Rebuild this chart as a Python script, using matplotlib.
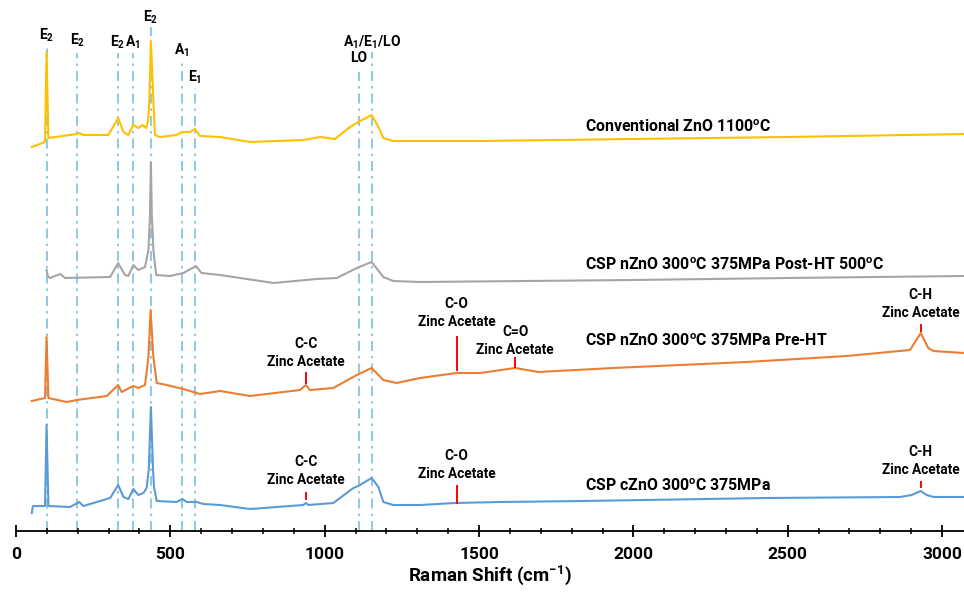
import matplotlib
matplotlib.use('Agg')
import matplotlib.pyplot as plt
from matplotlib.ticker import MultipleLocator

plt.rcParams['font.family'] = ['Roboto', 'DejaVu Sans']
plt.rcParams['font.weight'] = 'bold'
plt.rcParams['mathtext.default'] = 'regular'

# Raman spectra (x in cm-1, intensity in a.u., already offset)
yellow_x = [51, 94, 99, 105, 197, 205, 218, 299, 331, 348, 364, 380, 396, 410, 421, 428, 432, 437,
            445, 450, 466, 520, 537, 564, 580, 596, 661, 758, 931, 985, 1033, 1082, 1109, 1152,
            1174, 1190, 1222, 1309, 1500, 2000, 2500, 3071]
yellow_y = [384, 389, 479, 393, 397, 398, 396, 396, 413, 399, 396, 406, 403, 406, 403, 410, 431, 490,
            431, 396, 394, 396, 399, 399, 402, 395, 394, 389, 391, 394, 392, 404, 409, 416,
            404, 393, 390, 390, 390, 392, 394, 397]

gray_x = [99, 103, 110, 143, 159, 305, 331, 353, 364, 380, 396, 418, 429, 434, 437, 440, 445, 454,
          499, 542, 583, 601, 661, 834, 974, 1039, 1104, 1152, 1190, 1222, 1309, 2000, 2500, 3071]
gray_y = [261, 255, 253, 257, 253, 254, 268, 256, 255, 266, 261, 264, 281, 316, 368, 316, 281, 256,
          255, 258, 265, 258, 256, 248, 252, 253, 263, 269, 254, 250, 249, 251, 253, 255]

orange_x = [51, 94, 99, 105, 164, 197, 294, 331, 342, 380, 396, 418, 429, 436, 445, 456, 488, 542,
            596, 661, 758, 920, 939, 952, 1028, 1104, 1152, 1190, 1233, 1309, 1427, 1503, 1617,
            1692, 1935, 2367, 2691, 2896, 2931, 2955, 2972, 3071]
orange_y = [130, 133, 194, 133, 129, 131, 135, 146, 139, 145, 143, 146, 174, 221, 174, 148, 146, 142,
            137, 140, 135, 141, 146, 141, 143, 156, 163, 151, 148, 153, 158, 158, 163,
            159, 163, 169, 175, 181, 198, 183, 180, 178]

blue_x = [51, 55, 94, 99, 105, 175, 205, 218, 305, 331, 348, 364, 380, 396, 413, 423, 430, 437, 444,
          447, 456, 520, 539, 553, 585, 607, 661, 758, 931, 939, 947, 1028, 1093, 1109, 1152, 1174,
          1190, 1222, 1309, 1422, 1568, 1838, 2432, 2864, 2901, 2931, 2950, 2972, 3071]
blue_y = [18, 25, 25, 106, 25, 24, 29, 25, 33, 46, 34, 32, 42, 36, 38, 43, 61, 124, 61,
          44, 30, 29, 32, 29, 29, 27, 26, 22, 26, 28, 26, 28, 43, 45, 53, 44,
          29, 26, 26, 28, 29, 30, 33, 34, 36, 40, 36, 34, 34]

sample_names = ['Conventional ZnO 1100$^o$C',
                'CSP nZnO 300$^o$C 375MPa Post-HT 500$^o$C',
                'CSP nZnO 300$^o$C 375MPa Pre-HT',
                'CSP cZnO 300$^o$C 375MPa']
sample_label_y = [404, 266, 190, 45]

# ZnO phonon modes: position, label, label height, line top
mode_x = [99, 198, 330, 379, 437, 538, 580, 1111, 1153]
mode_labels = ['E$_2$', 'E$_2$', 'E$_2$', 'A$_1$', 'E$_2$', 'A$_1$', 'E$_1$', 'LO', 'A$_1$/E$_1$/LO']
mode_label_y = [496, 491, 489, 489, 514, 481, 454, 473, 489]
mode_line_top = [483, 478, 478, 478, 504, 471, 443, 459, 479]

# zinc acetate bands: x, tick bottom, tick top, label, label y
acet_x = [939, 1427, 1617, 2931, 939, 1427, 2931]
acet_lo = [148, 161, 164, 200, 32, 28, 44]
acet_hi = [158, 194, 173, 206, 38, 45, 49]
acet_names = ['C-C', 'C-O', 'C=O', 'C-H', 'C-C', 'C-O', 'C-H']
acet_label_y = [178, 218, 190, 227, 60, 66, 70]

fig = plt.figure(figsize=(9.64, 5.92), dpi=100)
ax = fig.add_axes([16 / 964, 61 / 592, 948 / 964, 531 / 592])

for x, top in zip(mode_x, mode_line_top):
    ax.plot([x, x], [0, top], color='#7CC0DC', lw=1.2, ls=(0, (6, 3, 1.5, 3)), zorder=1)

ax.plot(yellow_x, yellow_y, color='#FFC000', lw=1.5, zorder=2)
ax.plot(gray_x, gray_y, color='#A5A5A5', lw=1.5, zorder=2)
ax.plot(orange_x, orange_y, color='#ED7D31', lw=1.5, zorder=2)
ax.plot(blue_x, blue_y, color='#5B9BD5', lw=1.5, zorder=2)

for x, lbl, y in zip(mode_x, mode_labels, mode_label_y):
    ax.text(x, y, lbl, ha='center', va='center', fontsize=10)

for x, lo, hi, name, y in zip(acet_x, acet_lo, acet_hi, acet_names, acet_label_y):
    ax.plot([x, x], [lo, hi], color='red', lw=1.4, zorder=3)
    ax.text(x, y, name + '\nZinc Acetate', ha='center', va='center', fontsize=9.8,
            linespacing=1.4)

for name, y in zip(sample_names, sample_label_y):
    ax.text(1843, y, name, ha='left', va='center', fontsize=11.4)

ax.set_xlim(0, 3071)
ax.set_ylim(0, 531)
for side in ['top', 'right', 'left']:
    ax.spines[side].set_visible(False)
ax.spines['bottom'].set_linewidth(1.3)
ax.set_yticks([])
ax.xaxis.set_major_locator(MultipleLocator(500))
ax.xaxis.set_minor_locator(MultipleLocator(100))
ax.tick_params(axis='x', which='major', direction='inout', length=9, width=1.3,
               labelsize=12.5, pad=7)
ax.tick_params(axis='x', which='minor', direction='inout', length=5, width=1.1)
ax.set_xlabel('Raman Shift (cm$^{-1}$)', fontsize=13.5, fontweight='bold', labelpad=1)
ax.patch.set_alpha(0)

plt.savefig('out.png', dpi=100)
